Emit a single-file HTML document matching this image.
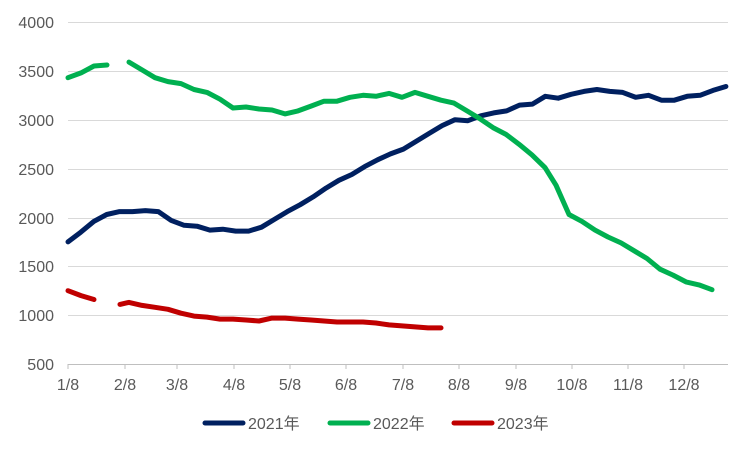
<!DOCTYPE html>
<html><head><meta charset="utf-8"><style>
html,body{margin:0;padding:0;background:#fff;}
svg{display:block;font-family:"Liberation Sans","Noto Sans CJK SC",sans-serif;}
</style></head><body>
<svg width="750" height="452" viewBox="0 0 750 452" xmlns="http://www.w3.org/2000/svg">
<g stroke="#d9d9d9" stroke-width="1">
<line x1="68" y1="22.5" x2="728" y2="22.5"/>
<line x1="68" y1="71.5" x2="728" y2="71.5"/>
<line x1="68" y1="120.5" x2="728" y2="120.5"/>
<line x1="68" y1="169.5" x2="728" y2="169.5"/>
<line x1="68" y1="218.5" x2="728" y2="218.5"/>
<line x1="68" y1="266.5" x2="728" y2="266.5"/>
<line x1="68" y1="315.5" x2="728" y2="315.5"/>
<line x1="68" y1="364.5" x2="728" y2="364.5" stroke="#bfbfbf"/>
<g stroke="#bfbfbf">
<line x1="68" y1="364" x2="68" y2="369"/><line x1="125" y1="364" x2="125" y2="369"/><line x1="177" y1="364" x2="177" y2="369"/><line x1="234" y1="364" x2="234" y2="369"/><line x1="290" y1="364" x2="290" y2="369"/><line x1="346" y1="364" x2="346" y2="369"/><line x1="403" y1="364" x2="403" y2="369"/><line x1="459" y1="364" x2="459" y2="369"/><line x1="516" y1="364" x2="516" y2="369"/><line x1="572" y1="364" x2="572" y2="369"/><line x1="628" y1="364" x2="628" y2="369"/><line x1="684" y1="364" x2="684" y2="369"/>
</g></g>
<g fill="#595959" font-size="16" text-anchor="end">
<text x="54" y="28">4000</text><text x="54" y="77">3500</text><text x="54" y="126">3000</text><text x="54" y="175">2500</text><text x="54" y="224">2000</text><text x="54" y="272">1500</text><text x="54" y="321">1000</text><text x="54" y="370">500</text>
</g>
<g fill="#595959" font-size="16" text-anchor="middle">
<text x="68" y="390">1/8</text><text x="125" y="390">2/8</text><text x="177" y="390">3/8</text><text x="234" y="390">4/8</text><text x="290" y="390">5/8</text><text x="346" y="390">6/8</text><text x="403" y="390">7/8</text><text x="459" y="390">8/8</text><text x="516" y="390">9/8</text><text x="572" y="390">10/8</text><text x="628" y="390">11/8</text><text x="684" y="390">12/8</text>
</g>
<g fill="none" stroke-width="5" stroke-linejoin="round" stroke-linecap="round">
<polyline stroke="#002060" points="68,241.9 80.9,232.1 93.8,221.4 106.7,214.5 119.6,211.6 132.5,211.6 145.4,210.6 158.3,211.6 171.2,220.4 184.1,225.3 197,226.2 209.9,230.1 222.8,229.2 235.7,231.1 248.6,231.1 261.5,227.2 274.4,219.4 287.3,211.6 300.2,204.7 313.1,196.9 326,188.1 338.9,180.3 351.8,174.5 364.7,166.6 377.6,159.8 390.5,153.9 403.4,149.1 416.3,141.2 429.2,133.4 442.1,125.6 455,119.7 467.9,120.7 480.8,115.8 493.7,112.9 506.6,110.9 519.5,105.1 532.4,104.1 545.3,96.3 558.2,98.2 571.1,94.3 584,91.4 596.9,89.5 609.8,91.4 622.7,92.4 635.6,97.3 648.5,95.3 661.4,100.2 674.3,100.2 687.2,96.3 700.1,95.3 713,90.4 725.9,86.5"/>
<polyline stroke="#00b050" points="68,77.7 81,72.9 94,66 107,65"/>
<polyline stroke="#00b050" points="129,62.1 142,69.9 155,77.7 168,81.6 181,83.6 194,89.5 207,92.4 220,99.2 233,108 246,107 259,109 272,110 285,113.9 298,110.9 311,106.1 324,101.2 337,101.2 350,97.3 363,95.3 376,96.3 389,93.4 402,97.3 415,92.4 428,96.3 441,100.2 454,103.1 467,110.9 480,118.8 493,127.6 506,134.4 519,144.2 532,154.9 545,167.6 556,185.2 569,214.5 582,221.4 595,230.1 608,237 621,242.9 634,250.7 647,258.5 660,269.2 673,275.1 686,281.9 699,284.9 712,289.7"/>
<polyline stroke="#c00000" points="68,290.7 81,295.6 94,299.5"/>
<polyline stroke="#c00000" points="120,304.4 129,302.4 142,305.4 155,307.3 168,309.3 181,313.2 194,316.1 207,317.1 220,319.1 233,319.1 246,320 259,321 272,318.1 285,318.1 298,319.1 311,320 324,321 337,322 350,322 363,322 376,323 389,324.9 402,325.9 415,326.9 428,327.9 441,327.9"/>
</g>
<g stroke-width="5" stroke-linecap="round">
<line x1="205" y1="423" x2="243" y2="423" stroke="#002060"/>
<line x1="330" y1="423" x2="368" y2="423" stroke="#00b050"/>
<line x1="454" y1="423" x2="492" y2="423" stroke="#c00000"/>
</g>
<g fill="#595959" font-size="16">
<text x="248" y="429">2021年</text><text x="373" y="429">2022年</text><text x="497" y="429">2023年</text>
</g>
</svg>
</body></html>
